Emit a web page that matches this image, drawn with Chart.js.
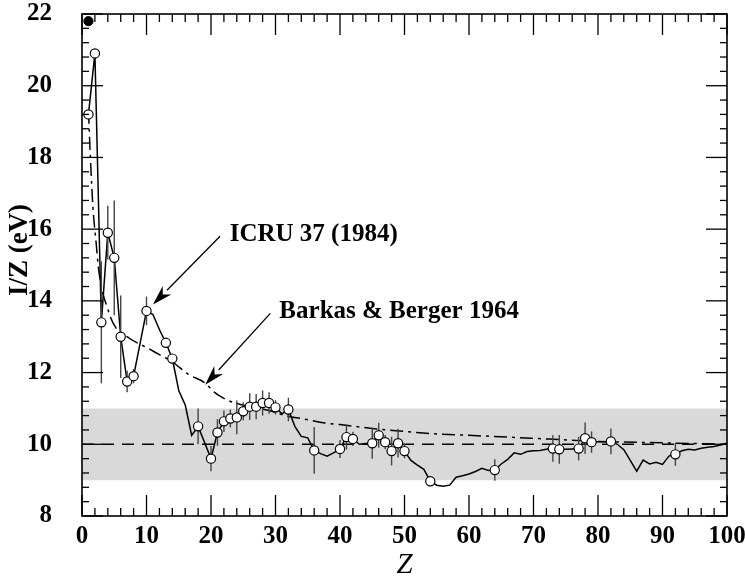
<!DOCTYPE html>
<html>
<head>
<meta charset="utf-8">
<script src="https://cdn.jsdelivr.net/npm/chart.js@4.4.0/dist/chart.umd.min.js"></script>
<style>
  html, body { margin: 0; padding: 0; background: #fff; }
  #wrap { width: 745px; height: 581px; }
</style>
</head>
<body>
<div id="wrap"><canvas id="myChart"></canvas></div>
<script>
// measured I/Z values with error bars
const measZ = [1, 2, 3, 4, 5, 6, 7, 8, 10, 13, 14, 18, 20, 21, 22, 23, 24, 25, 26, 27, 28, 29, 30, 32,
    36, 40, 41, 42, 45, 46, 47, 48, 49, 50, 54, 64, 73, 74, 77, 78, 79, 82, 92];
const measI = [19.2, 20.9, 13.4, 15.9, 15.2, 13.0, 11.75, 11.9, 13.72, 12.83, 12.39, 10.5, 9.6, 10.33, 10.64, 10.72, 10.75, 10.92, 11.05, 11.05, 11.15, 11.15, 11.03, 10.97,
    9.83, 9.87, 10.2, 10.15, 10.03, 10.25, 10.06, 9.81, 10.03, 9.81, 8.97, 9.28, 9.88, 9.86, 9.88, 10.17, 10.06, 10.08, 9.72];
const measErr = [0, 0, 1.7, 0.75, 1.6, 1.15, 0.3, 0.2, 0.4, 0, 0, 0.5, 0.35, 0.37, 0.3, 0.25, 0.47, 0.25, 0.37, 0.35, 0.35, 0.3, 0.2, 0.33,
    0.65, 0.25, 0.35, 0.2, 0.43, 0.35, 0.2, 0.4, 0.4, 0.2, 0, 0.3, 0.37, 0.4, 0.33, 0.44, 0.3, 0.36, 0.32];

// the filled point at hydrogen
const solidZ = [1];
const solidI = [21.8];

// ICRU 37 (1984) curve
const icruZ = [1, 2, 3, 4, 5, 6, 7, 8, 10, 11, 12, 13, 14, 15, 16, 17, 18, 20, 21, 22, 23, 24, 25, 26, 27, 28, 29, 30,
    31, 32, 33, 34, 35, 36, 37, 38, 39, 40, 41, 42, 43, 44, 45, 46, 47, 48, 49, 50, 51, 52, 53, 54, 55, 56, 57, 58, 59, 60,
    61, 62, 63, 64, 65, 66, 67, 68, 69, 70, 71, 72, 73, 74, 75, 76, 77, 78, 79, 80, 81, 82, 83, 84, 85, 86, 87, 88, 89, 90,
    91, 92, 93, 94, 95, 96, 97, 98, 99, 100];
const icruI = [19.2, 20.9, 13.4, 15.9, 15.2, 13.0, 11.75, 11.9, 13.72, 13.62, 13.2, 12.83, 12.39, 11.5, 11.1, 10.25, 10.5, 9.6, 10.33, 10.64, 10.72, 10.75, 10.92, 11.05, 11.05, 11.15, 11.15, 11.03,
    10.85, 10.97, 10.5, 10.22, 10.18, 9.83, 9.74, 9.67, 9.76, 9.87, 10.2, 10.15, 10.0, 10.02, 10.03, 10.25, 10.06, 9.81, 10.03, 9.81, 9.55, 9.42, 9.3, 8.97, 8.86, 8.83, 8.86, 9.08, 9.12, 9.17,
    9.24, 9.33, 9.27, 9.28, 9.45, 9.58, 9.76, 9.72, 9.8, 9.82, 9.83, 9.86, 9.88, 9.86, 9.86, 9.87, 9.88, 10.17, 10.06, 10.07, 10.07, 10.08, 10.0, 9.85, 9.55, 9.25, 9.56, 9.45, 9.5, 9.44,
    9.67, 9.72, 9.82, 9.86, 9.84, 9.89, 9.92, 9.94, 9.98, 10.03];

// Barkas & Berger 1964 curve
const bbZ = [1, 1.3, 1.7, 2.2, 2.5, 3, 3.9, 5, 7.4, 10, 12, 14, 16.5, 19, 20.6, 22, 23.4, 29, 32, 34, 37.4, 40, 45, 50, 54, 60, 73, 80, 90, 100];
const bbI = [19.3, 18.0, 16.6, 15.6, 15.0, 14.4, 13.82, 13.32, 12.95, 12.7, 12.5, 12.3, 11.95, 11.72, 11.44, 11.28, 11.17, 10.94, 10.78, 10.72, 10.6, 10.55, 10.44, 10.36, 10.3, 10.25, 10.14, 10.08, 10.04, 10.0];

// reference level and shaded band
const refLevel = 10;
const bandLow = 9;
const bandHigh = 11;

// annotation labels: text, text anchor (Z, I/Z), arrow tail, arrow tip
const noteText = ['ICRU 37 (1984)', 'Barkas & Berger 1964'];
const noteAt = [[22.9, 15.85], [30.6, 13.7]];
const noteTail = [[21.4, 15.8], [29.2, 13.65]];
const noteTip = [[11.0, 13.9], [19.1, 11.66]];

const xMin = 0, xMax = 100, yMin = 8, yMax = 22;
const yTitle = 'I/Z (eV)';

const serif = "'Liberation Serif', 'DejaVu Serif', serif";

const pts = (zs, vs) => zs.map((z, i) => ({x: z, y: vs[i]}));

const errorBars = {
    id: 'errorBars',
    beforeDatasetDraw(chart, args) {
        if (args.index !== 4) return;
        const {ctx, scales: {x, y}} = chart;
        ctx.save();
        ctx.strokeStyle = '#444';
        ctx.lineWidth = 1.4;
        measZ.forEach((z, i) => {
            if (!measErr[i]) return;
            const px = x.getPixelForValue(z);
            ctx.beginPath();
            ctx.moveTo(px, y.getPixelForValue(measI[i] - measErr[i]));
            ctx.lineTo(px, y.getPixelForValue(measI[i] + measErr[i]));
            ctx.stroke();
        });
        ctx.restore();
    }
};

const frameTicks = {
    id: 'frameTicks',
    afterDatasetsDraw(chart) {
        const {ctx, chartArea: a, scales: {x, y}} = chart;
        ctx.save();
        ctx.strokeStyle = '#000';
        ctx.lineWidth = 1.3;
        const seg = (x1, y1, x2, y2) => {
            ctx.beginPath(); ctx.moveTo(x1, y1); ctx.lineTo(x2, y2); ctx.stroke();
        };
        for (let i = 0; i <= 50; i++) {
            const px = x.getPixelForValue(i * 2);
            const len = i % 5 === 0 ? 21 : 8;
            seg(px, a.bottom, px, a.bottom - len);
            seg(px, a.top, px, a.top + len);
        }
        for (let i = 0; i <= 35; i++) {
            const py = y.getPixelForValue(yMin + i * 0.4);
            const len = i % 5 === 0 ? 21 : 7;
            seg(a.left, py, a.left + len, py);
            seg(a.right, py, a.right - len, py);
        }
        ctx.lineWidth = 1.6;
        ctx.strokeRect(a.left, a.top, a.right - a.left, a.bottom - a.top);
        ctx.restore();
    }
};

const notes = {
    id: 'notes',
    afterDraw(chart) {
        const {ctx, chartArea: a, scales: {x, y}} = chart;
        ctx.save();
        ctx.fillStyle = '#000';
        ctx.strokeStyle = '#000';
        ctx.lineWidth = 1.3;
        ctx.font = 'bold 25px ' + serif;
        ctx.textBaseline = 'middle';
        noteText.forEach((t, i) => {
            ctx.fillText(t, x.getPixelForValue(noteAt[i][0]), y.getPixelForValue(noteAt[i][1]));
            const x1 = x.getPixelForValue(noteTail[i][0]), y1 = y.getPixelForValue(noteTail[i][1]);
            const x2 = x.getPixelForValue(noteTip[i][0]), y2 = y.getPixelForValue(noteTip[i][1]);
            const ang = Math.atan2(y2 - y1, x2 - x1);
            const hl = 20, hw = 6;
            const bx = x2 - hl * Math.cos(ang), by = y2 - hl * Math.sin(ang);
            ctx.beginPath(); ctx.moveTo(x1, y1); ctx.lineTo(bx, by); ctx.stroke();
            ctx.beginPath();
            ctx.moveTo(x2, y2);
            ctx.lineTo(bx + hw * Math.sin(ang), by - hw * Math.cos(ang));
            ctx.lineTo(x2 - 0.7 * hl * Math.cos(ang), y2 - 0.7 * hl * Math.sin(ang));
            ctx.lineTo(bx - hw * Math.sin(ang), by + hw * Math.cos(ang));
            ctx.closePath();
            ctx.fill();
        });
        // y axis title, a little above the middle like the original
        ctx.translate(20, (a.top + a.bottom) / 2 - 15);
        ctx.rotate(-Math.PI / 2);
        ctx.textAlign = 'center';
        ctx.font = 'bold 27px ' + serif;
        ctx.fillText(yTitle, 0, 0);
        ctx.restore();
    }
};

const data = {
    datasets: [
        {   // shaded band
            data: pts([xMin, xMax], [bandHigh, bandHigh]),
            showLine: true, borderWidth: 0, pointRadius: 0,
            backgroundColor: '#d9d9d9', fill: {value: bandLow}, order: 6
        },
        {   // reference level
            data: pts([xMin, xMax], [refLevel, refLevel]),
            showLine: true, borderColor: '#000', borderWidth: 1.5, borderDash: [12, 8],
            pointRadius: 0, fill: false, order: 5
        },
        {   // Barkas & Berger 1964
            data: pts(bbZ, bbI),
            showLine: true, borderColor: '#000', borderWidth: 1.5, borderDash: [13, 5, 3, 5],
            cubicInterpolationMode: 'monotone', pointRadius: 0, fill: false, order: 4
        },
        {   // ICRU 37
            data: pts(icruZ, icruI),
            showLine: true, borderColor: '#000', borderWidth: 1.5,
            pointRadius: 0, fill: false, order: 3
        },
        {   // measurements
            data: pts(measZ, measI),
            showLine: false, pointRadius: 4.6, pointBackgroundColor: '#fff',
            pointBorderColor: '#000', pointBorderWidth: 1.2, order: 1
        },
        {
            data: pts(solidZ, solidI),
            showLine: false, pointRadius: 4.6, pointBackgroundColor: '#000',
            pointBorderColor: '#000', clip: false, order: 0
        }
    ]
};

const config = {
    type: 'scatter',
    data: data,
    options: {
        responsive: true,
        maintainAspectRatio: false,
        animation: false,
        layout: { padding: { top: 14, right: 18, left: 0, bottom: 0 } },
        plugins: { legend: { display: false }, tooltip: { enabled: false } },
        scales: {
            x: {
                type: 'linear', min: xMin, max: xMax,
                afterFit: s => { s.height = 65; s.paddingLeft = 0; s.paddingRight = 0; },
                grid: { display: false, drawTicks: false }, border: { display: false },
                ticks: { stepSize: 10, padding: 6, color: '#000', maxRotation: 0,
                    font: { family: serif, size: 25, weight: 'bold' } },
                title: { display: true, text: 'Z', color: '#000', padding: { top: 0, bottom: 1 },
                    font: { family: serif, size: 29, style: 'italic', lineHeight: 1 } }
            },
            y: {
                type: 'linear', min: yMin, max: yMax,
                afterFit: s => { s.width = 82; s.paddingTop = 0; s.paddingBottom = 0; },
                grid: { display: false, drawTicks: false }, border: { display: false },
                ticks: { stepSize: 2, padding: 30, color: '#000',
                    font: { family: serif, size: 25, weight: 'bold' } }
            }
        }
    },
    plugins: [errorBars, frameTicks, notes]
};

new Chart(document.getElementById('myChart'), config);
</script>
</body>
</html>
